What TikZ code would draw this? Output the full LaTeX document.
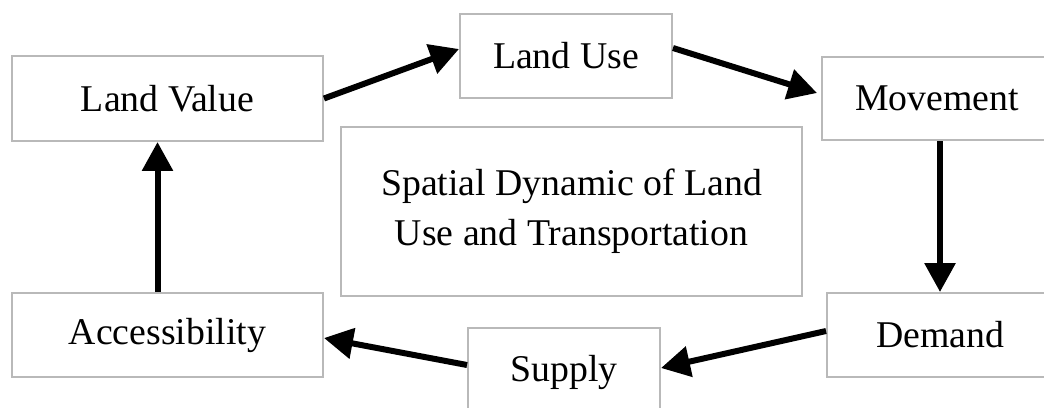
\documentclass[tikz,border=0pt]{standalone}
\usepackage{fontspec}
\setmainfont{Liberation Serif}
\usepackage{tikz}
\usetikzlibrary{arrows.meta, positioning}
\definecolor{boxgray}{RGB}{185,185,185}
\tikzstyle{stage} = [draw=boxgray, line width=0.04cm, fill=white, rectangle,
    inner sep=0pt, font=\fontsize{21.5}{28.5}\selectfont]
\tikzstyle{flow} = [->, line width=0.12cm]

\begin{document}
\begin{tikzpicture}[x=0.02cm, y=-0.02cm, >={Triangle[length=0.58cm,width=0.6cm]}]
    \useasboundingbox (0,0) rectangle (1044,407);
    \node [stage, minimum width=6.22cm, minimum height=1.7cm] (landvalue) at (167.5,98.5) {Land Value};
    \node [stage, minimum width=4.24cm, minimum height=1.68cm] (landuse) at (566,56) {Land Use};
    \node [stage, minimum width=4.6cm, minimum height=1.66cm] (movement) at (937,98.5) {Movement};
    \node [stage, minimum width=9.22cm, minimum height=3.38cm, align=center] (dynamic) at (571.5,211.5)
        {Spatial Dynamic of Land\\Use and Transportation};
    \node [stage, minimum width=6.22cm, minimum height=1.68cm] (access) at (167.5,335) {Accessibility};
    \node [stage, minimum width=3.84cm, minimum height=1.76cm] (supply) at (564,372) {Supply};
    \node [stage, minimum width=4.52cm, minimum height=1.68cm] (demand) at (940,335) {Demand};
    \draw [flow] (landvalue.east) -- ([yshift=0.14cm]landuse.west);
    \draw [flow] ([yshift=0.16cm]landuse.east) -- ([yshift=0.11cm,xshift=-0.08cm]movement.west);
    \draw [flow] (demand.north |- movement.south) -- (demand.north);
    \draw [flow] ([yshift=0.08cm]demand.west) -- ([yshift=0.08cm]supply.east);
    \draw [flow] ([yshift=0.14cm]supply.west) -- ([yshift=-0.06cm]access.east);
    \draw [flow] ([xshift=-0.2cm]access.north) -- ([xshift=-0.2cm]landvalue.south);
\end{tikzpicture}
\end{document}
